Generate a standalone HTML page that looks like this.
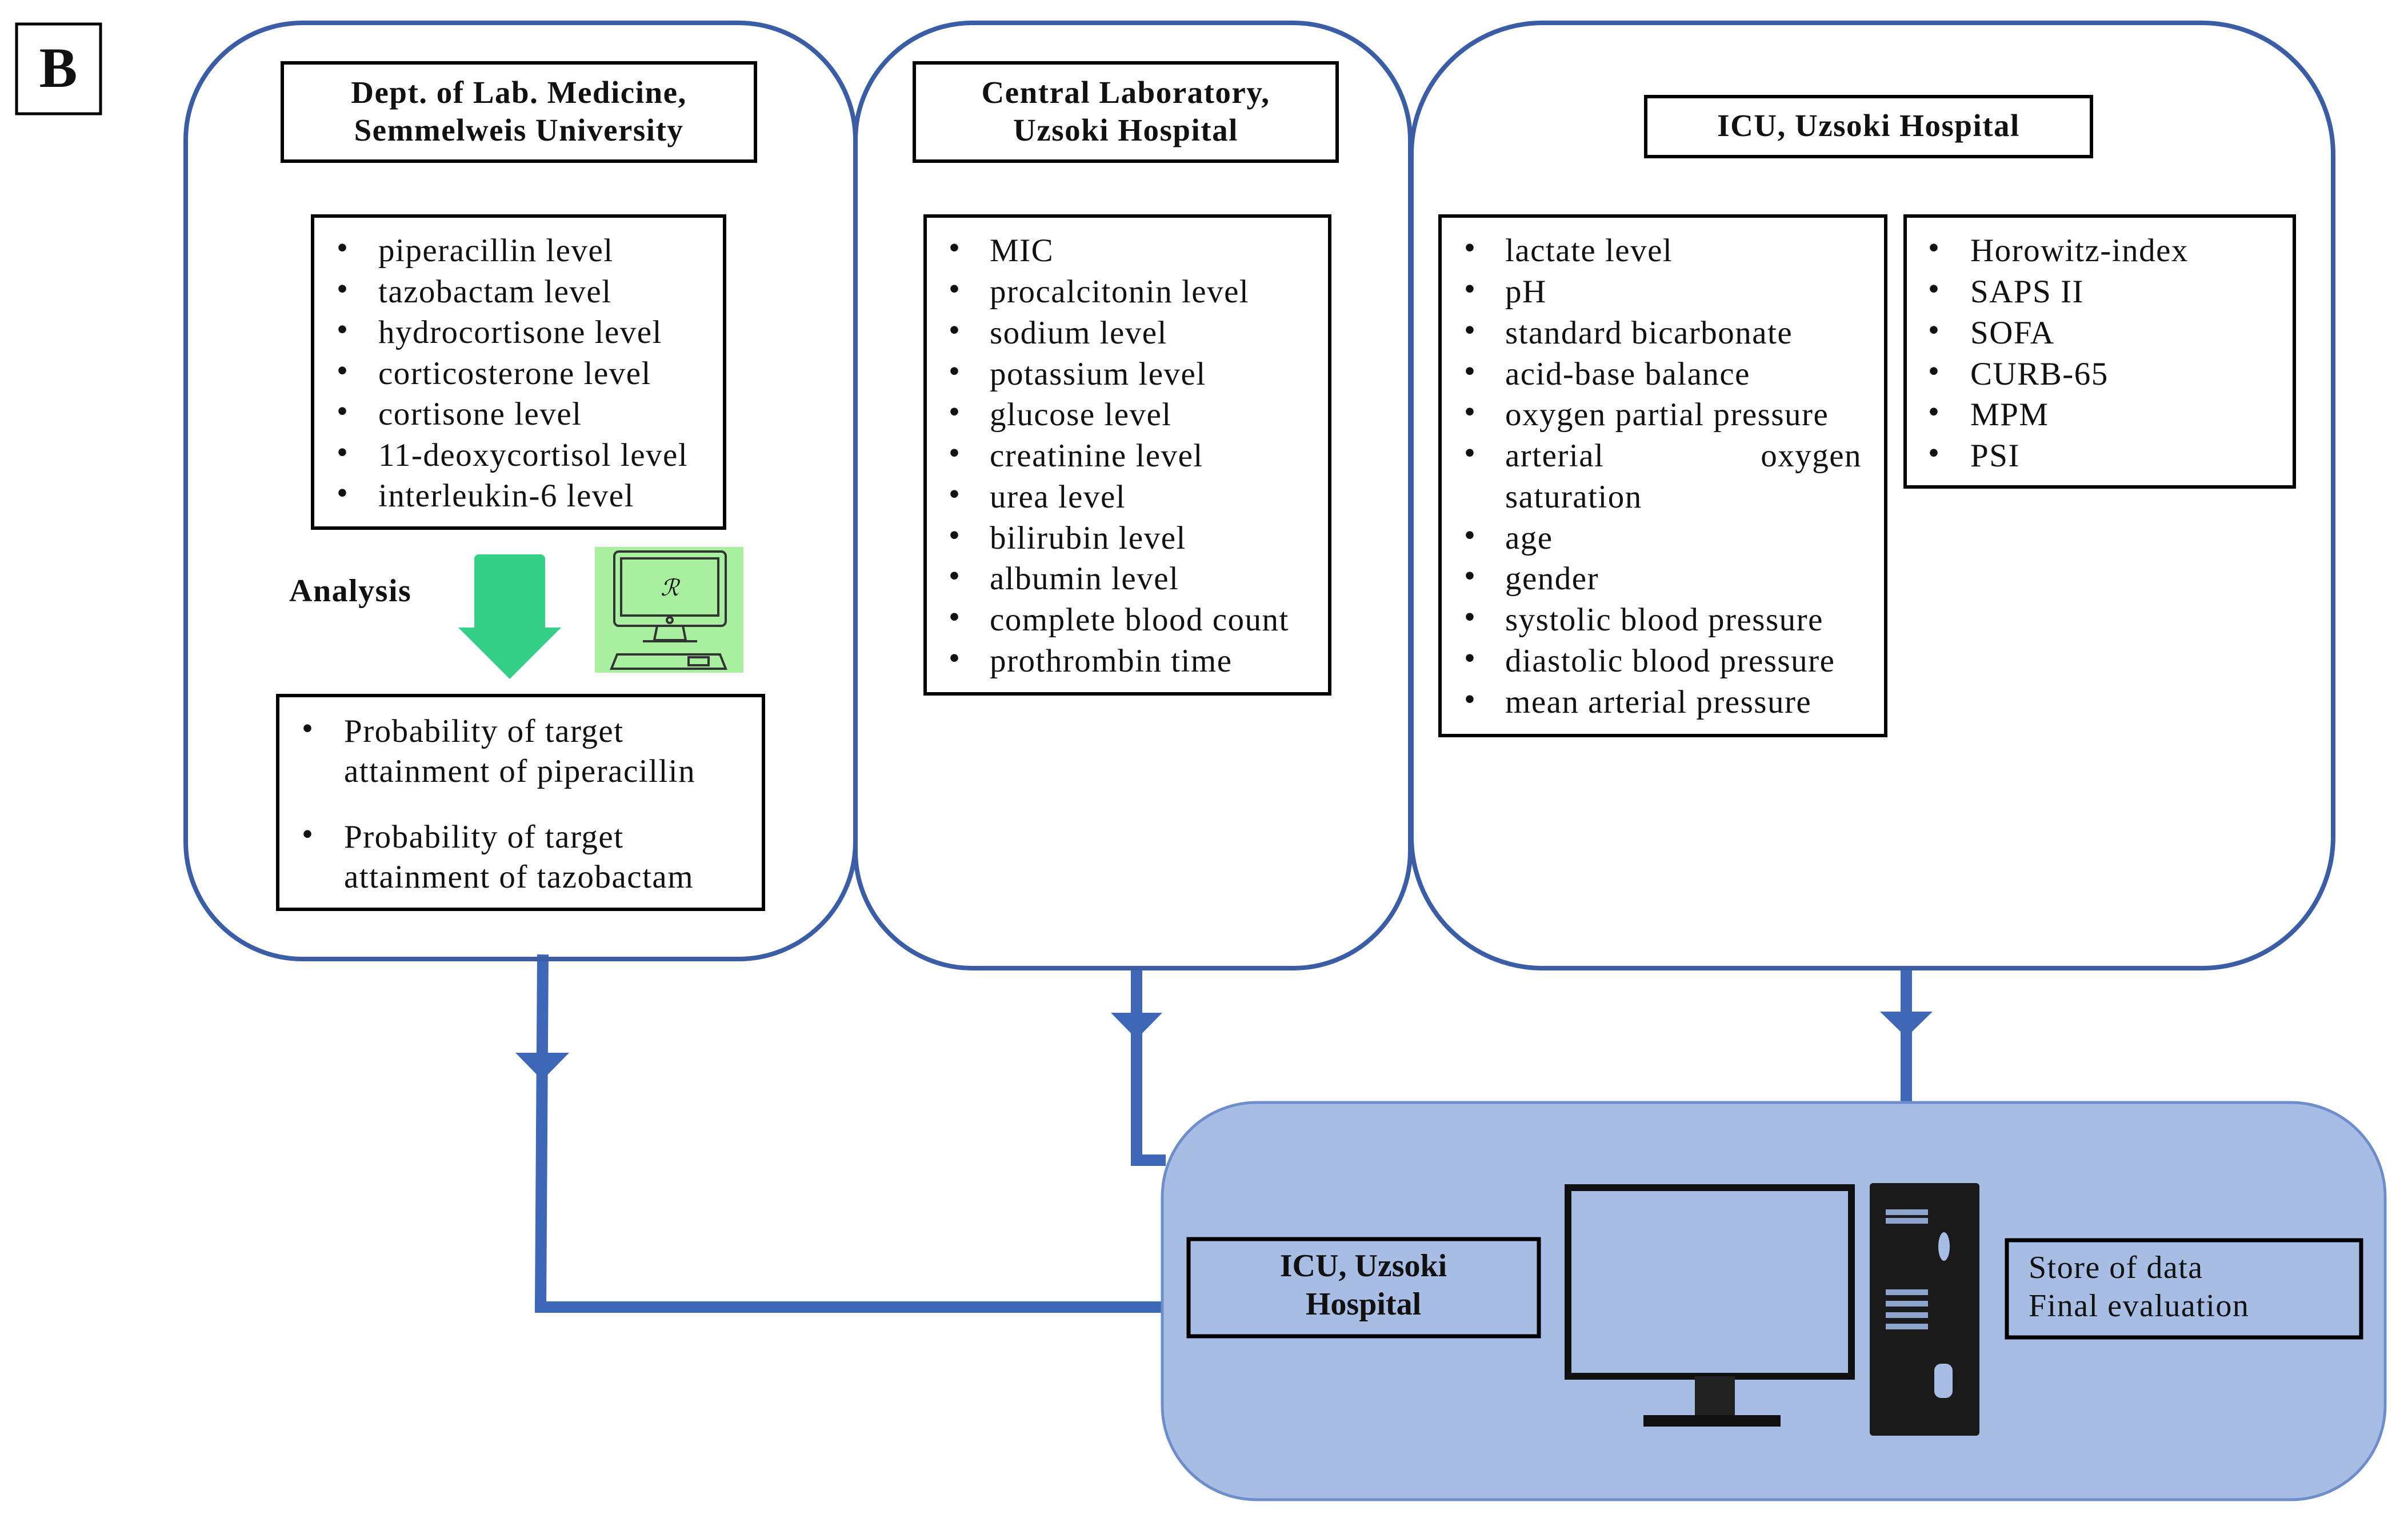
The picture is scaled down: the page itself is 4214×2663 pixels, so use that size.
<!DOCTYPE html>
<html><head><meta charset="utf-8"><style>
html,body{margin:0;padding:0;background:#fff}
svg{display:block}
text{font-family:"Liberation Serif",serif;fill:#111}
.b{font-weight:bold}
.l{letter-spacing:1.5px}
</style></head><body>
<svg width="4214" height="2663" viewBox="0 0 4214 2663" xmlns="http://www.w3.org/2000/svg">
<rect x="29" y="42" width="147" height="157" fill="#fff" stroke="#000" stroke-width="5"/>
<text x="102" y="152" font-size="100" class="b" text-anchor="middle">B</text>

<g fill="none" stroke="#3f67b8" stroke-width="20">
<polyline points="950,1670 946,2287 2040,2287"/>
<polyline points="1989,1690 1989,2030 2040,2030"/>
<line x1="3336" y1="1690" x2="3336" y2="1930"/>
</g>
<g fill="#3f67b8">
<polygon points="902,1842 996,1842 949,1890"/>
<polygon points="1944,1772 2034,1772 1989,1818"/>
<polygon points="3290,1770 3382,1770 3336,1815"/>
</g>

<g fill="none" stroke="#3a5da5" stroke-width="8">
<rect x="325" y="40" width="1172" height="1638" rx="205"/>
<rect x="1497" y="40" width="971" height="1654" rx="205"/>
<rect x="2470" y="40" width="1613" height="1654" rx="230"/>
</g>

<g fill="#fff" stroke="#000" stroke-width="6">
<rect x="494" y="110" width="828" height="172"/>
<rect x="1600" y="110" width="740" height="172"/>
<rect x="2880" y="169" width="780" height="105"/>
</g>
<g font-size="55" class="b" text-anchor="middle">
<text x="908" y="180" class="b l">Dept. of Lab. Medicine,</text>
<text x="908" y="246" class="b l">Semmelweis University</text>
<text x="1970" y="180" class="b l">Central Laboratory,</text>
<text x="1970" y="246" class="b l">Uzsoki Hospital</text>
<text x="3270" y="238" class="b l">ICU, Uzsoki Hospital</text>
</g>

<g fill="#fff" stroke="#000" stroke-width="6">
<rect x="547" y="378" width="721" height="546"/>
<rect x="1619" y="378" width="708" height="836"/>
<rect x="2520" y="378" width="780" height="909"/>
<rect x="3334" y="378" width="681" height="474"/>
<rect x="486" y="1217" width="850" height="374"/>
</g>

<g font-size="57" class="l">
<g>
<text x="589" y="452">•</text><text x="662" y="457">piperacillin level</text>
<text x="589" y="524">•</text><text x="662" y="529">tazobactam level</text>
<text x="589" y="595">•</text><text x="662" y="600">hydrocortisone level</text>
<text x="589" y="667">•</text><text x="662" y="672">corticosterone level</text>
<text x="589" y="738">•</text><text x="662" y="743">cortisone level</text>
<text x="589" y="810">•</text><text x="662" y="815">11-deoxycortisol level</text>
<text x="589" y="881">•</text><text x="662" y="886">interleukin-6 level</text>
</g>
<g>
<text x="1660" y="452">•</text><text x="1732" y="457">MIC</text>
<text x="1660" y="524">•</text><text x="1732" y="529">procalcitonin level</text>
<text x="1660" y="596">•</text><text x="1732" y="601">sodium level</text>
<text x="1660" y="668">•</text><text x="1732" y="673">potassium level</text>
<text x="1660" y="739">•</text><text x="1732" y="744">glucose level</text>
<text x="1660" y="811">•</text><text x="1732" y="816">creatinine level</text>
<text x="1660" y="883">•</text><text x="1732" y="888">urea level</text>
<text x="1660" y="955">•</text><text x="1732" y="960">bilirubin level</text>
<text x="1660" y="1026">•</text><text x="1732" y="1031">albumin level</text>
<text x="1660" y="1098">•</text><text x="1732" y="1103">complete blood count</text>
<text x="1660" y="1170">•</text><text x="1732" y="1175">prothrombin time</text>
</g>
<g>
<text x="2562" y="452">•</text><text x="2634" y="457">lactate level</text>
<text x="2562" y="524">•</text><text x="2634" y="529">pH</text>
<text x="2562" y="596">•</text><text x="2634" y="601">standard bicarbonate</text>
<text x="2562" y="668">•</text><text x="2634" y="673">acid-base balance</text>
<text x="2562" y="739">•</text><text x="2634" y="744">oxygen partial pressure</text>
<text x="2562" y="811">•</text><text x="2634" y="816">arterial</text><text x="3258" y="816" text-anchor="end">oxygen</text>
<text x="2634" y="888">saturation</text>
<text x="2562" y="955">•</text><text x="2634" y="960">age</text>
<text x="2562" y="1026">•</text><text x="2634" y="1031">gender</text>
<text x="2562" y="1098">•</text><text x="2634" y="1103">systolic blood pressure</text>
<text x="2562" y="1170">•</text><text x="2634" y="1175">diastolic blood pressure</text>
<text x="2562" y="1242">•</text><text x="2634" y="1247">mean arterial pressure</text>
</g>
<g>
<text x="3374" y="452">•</text><text x="3448" y="457">Horowitz-index</text>
<text x="3374" y="524">•</text><text x="3448" y="529">SAPS II</text>
<text x="3374" y="596">•</text><text x="3448" y="601">SOFA</text>
<text x="3374" y="668">•</text><text x="3448" y="673">CURB-65</text>
<text x="3374" y="739">•</text><text x="3448" y="744">MPM</text>
<text x="3374" y="811">•</text><text x="3448" y="816">PSI</text>
</g>
<g>
<text x="528" y="1293">•</text><text x="602" y="1298">Probability of target</text>
<text x="602" y="1368">attainment of piperacillin</text>
<text x="528" y="1478">•</text><text x="602" y="1483">Probability of target</text>
<text x="602" y="1553">attainment of tazobactam</text>
</g>
</g>

<text x="506" y="1052" font-size="56" class="b l">Analysis</text>
<path d="M860,970 h86 a8,8 0 0 1 8,8 v120 h28 l-90,90 l-90,-90 h28 v-120 a8,8 0 0 1 8,-8z" fill="#34d088"/>
<rect x="1041" y="957" width="260" height="220" fill="#a8f0a0"/>
<g fill="none" stroke="#333" stroke-width="4">
<rect x="1075" y="965" width="195" height="130" rx="8"/>
<rect x="1087" y="977" width="170" height="100"/>
<circle cx="1172" cy="1085" r="5"/>
<path d="M1150,1095 l-5,25 h55 l-5,-25"/>
<path d="M1125,1122 h95"/>
<path d="M1080,1145 h180 l10,25 h-200z"/>
<rect x="1205" y="1150" width="35" height="14"/>
</g>
<text x="1172" y="1042" font-size="40" font-style="italic" text-anchor="middle">ℛ</text>

<rect x="2034" y="1929" width="2140" height="695" rx="165" fill="#a8bde3" stroke="#6e8ecb" stroke-width="5"/>
<rect x="2080" y="2168" width="613" height="170" fill="none" stroke="#000" stroke-width="7"/>
<rect x="3512" y="2170" width="620" height="170" fill="none" stroke="#000" stroke-width="7"/>
<g font-size="56">
<text x="2386" y="2233" text-anchor="middle" class="b">ICU, Uzsoki</text>
<text x="2386" y="2300" text-anchor="middle" class="b">Hospital</text>
<text x="3550" y="2236" class="l">Store of data</text>
<text x="3550" y="2303" class="l">Final evaluation</text>
</g>
<rect x="2744" y="2078" width="496" height="330" fill="none" stroke="#111" stroke-width="12"/>
<rect x="2966" y="2408" width="70" height="75" fill="#222"/>
<rect x="2876" y="2476" width="240" height="20" fill="#111"/>
<rect x="3272" y="2070" width="192" height="442" rx="6" fill="#1a1a1a"/>
<g stroke="#8fa4cc" stroke-width="10">
<line x1="3300" y1="2121" x2="3374" y2="2121"/>
<line x1="3300" y1="2136" x2="3374" y2="2136"/>
<line x1="3300" y1="2261" x2="3374" y2="2261"/>
<line x1="3300" y1="2281" x2="3374" y2="2281"/>
<line x1="3300" y1="2301" x2="3374" y2="2301"/>
<line x1="3300" y1="2321" x2="3374" y2="2321"/>
</g>
<ellipse cx="3402" cy="2181" rx="10" ry="25" fill="#a8bde3"/>
<rect x="3385" y="2386" width="32" height="60" rx="12" fill="#a8bde3"/>
</svg>
</body></html>
